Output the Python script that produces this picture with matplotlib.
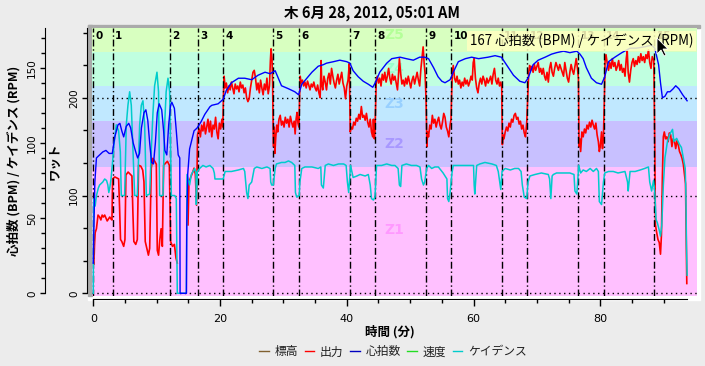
import numpy as np
import matplotlib
matplotlib.use("Agg")
import matplotlib.pyplot as plt
from matplotlib.ticker import MultipleLocator, FixedLocator
from matplotlib.patches import Rectangle, Polygon
from matplotlib.lines import Line2D

plt.rcParams['font.family'] = ['Noto Sans CJK JP', 'DejaVu Sans']

# ---------------- DADOS ----------------
titulo = "木 6月 28, 2012, 05:01 AM"
rotulo_x = "時間 (分)"
rotulo_bpm = "心拍数 (BPM) / ケイデンス (RPM)"
rotulo_watt = "ワット"
dica = "167 心拍数 (BPM) / ケイデンス (RPM)"

# inicio de cada intervalo (min)
intervalos = [0.0, 3.05, 12.15, 16.5, 20.5, 28.4, 32.5, 40.5, 44.5, 52.55,
              56.5, 64.5, 68.5, 76.55, 80.6, 88.55]
intervalos_nomes = [str(i) for i in range(len(intervalos))]

# zonas de potencia (W)
zonas_nomes = ["Z1", "Z2", "Z3", "Z4", "Z5"]
zonas_lim = [0, 129.25, 176.25, 211.5, 246.75, 282.0]
zonas_cores = ["#ffc0ff", "#c8c0ff", "#c0e8ff", "#c0ffe0", "#d8ffc0"]
zonas_cores_txt = ["#ff99ff", "#a898ff", "#98d0ff", "#98ffcc", "#b4ff98"]

# frequencia cardiaca (BPM)
t_hr = [0.0, 0.1, 0.25, 0.5, 1.0, 1.5, 2.0, 2.5, 3.0, 3.4, 3.9, 4.2, 4.5, 4.8,
        5.2, 5.6, 5.9, 6.3, 6.7, 7.0, 7.3, 7.6, 8.0, 8.3, 8.6, 8.9, 9.2, 9.5,
        9.8, 10.1, 10.4, 10.8, 11.1, 11.3, 11.6, 11.9, 12.2, 12.4, 12.8, 13.1,
        13.4, 13.65, 13.7, 14.7, 14.75, 14.9, 15.2, 15.9, 16.4, 17.0, 17.6,
        18.4, 18.7, 19.7, 20.5, 21.0, 21.8, 22.9, 23.9, 25.0, 26.0, 27.1, 27.9,
        28.7, 29.2, 29.7, 30.8, 31.8, 32.4, 32.9, 33.7, 34.5, 35.5, 36.3, 36.8,
        37.9, 38.9, 40.0, 40.5, 41.0, 41.8, 42.6, 43.4, 44.1, 44.5, 45.2, 46.3,
        47.1, 48.4, 49.4, 50.5, 51.5, 52.3, 52.9, 53.7, 54.4, 55.0, 55.5, 56.3,
        56.8, 57.6, 58.7, 59.7, 60.8, 62.3, 63.4, 64.4, 65.2, 66.3, 67.3, 68.1,
        68.6, 69.4, 70.2, 71.3, 72.3, 73.1, 74.2, 75.2, 76.3, 76.8, 77.3, 77.8,
        78.6, 79.4, 80.2, 80.7, 81.3, 82.3, 83.4, 84.7, 85.7, 87.1, 88.1, 88.6,
        89.2, 89.5, 89.8, 90.2, 90.6, 91.0, 91.5, 91.9, 92.4, 93.0, 93.7]
hr = [20, 45, 74, 90, 92, 94, 95, 93, 93, 104, 112, 113, 108, 104,
      111, 113, 110, 100, 94, 90, 93, 110, 120, 122, 115, 100, 87, 86,
      100, 120, 126, 122, 108, 95, 92, 112, 125, 127, 123, 108,
      92, 90, 0, 0, 45, 79, 96, 108, 110, 114, 119,
      124, 125, 126, 129, 135, 140, 143, 143, 142, 145, 147, 146,
      148, 143, 138, 136, 134, 132, 139, 143, 147, 151, 152, 153,
      154, 155, 154, 153, 148, 144, 141, 139, 137, 140, 147, 153,
      156, 157, 156, 155, 157, 157, 156, 150, 144, 141, 140, 142,
      147, 154, 156, 157, 156, 157, 158, 157, 152, 145, 141, 140,
      143, 152, 155, 157, 159, 160, 161, 160, 161, 159, 156, 150,
      143, 140, 139, 144, 154, 157, 160, 163, 163, 164, 165, 163,
      152, 140, 130, 131, 134, 134, 136, 138, 136, 132, 128]

# potencia (W)
t_pw = [0.1, 0.2, 0.3, 0.5, 0.75, 1.0, 1.2, 1.4, 1.6, 1.8, 2.0, 2.2, 2.4, 2.6,
        2.8, 2.95, 3.05, 3.4, 3.7, 4.0, 4.15, 4.3, 4.5, 4.8, 5.0, 5.15, 5.5,
        5.8, 6.1, 6.25, 6.4, 6.7, 6.95, 7.15, 7.5, 7.8, 8.0, 8.2, 8.45, 8.7,
        8.9, 9.15, 9.4, 9.7, 9.95, 10.1, 10.3, 10.5, 10.7, 10.9, 11.1, 11.4,
        11.7, 12.0, 12.2, 12.5, 12.8, 13.05, 13.25, 13.3, 14.9, 14.95, 15.1,
        15.4, 15.7, 15.9, 16.1, 16.3, 16.45,
        16.7, 16.9, 17.1, 17.3, 17.5, 17.7, 17.9, 18.1, 18.3, 18.5, 18.7, 18.9,
        19.1, 19.3, 19.5, 19.7, 19.9, 20.1, 20.3, 20.45,
        20.55, 20.65, 20.8, 21.0, 21.2, 21.4, 21.6, 21.8, 22.0, 22.2, 22.4,
        22.6, 22.8, 23.0, 23.2, 23.4, 23.6, 23.8, 24.0, 24.2, 24.4, 24.6, 24.8,
        25.0, 25.2, 25.4, 25.6, 25.8, 26.0, 26.2, 26.4, 26.6, 26.8, 27.0, 27.2,
        27.4, 27.6, 27.8, 27.95, 28.05, 28.2, 28.3, 28.4,
        28.45, 28.55, 28.65, 28.8, 28.95, 29.1, 29.3, 29.5, 29.7, 29.9, 30.1,
        30.3, 30.5, 30.7, 30.9, 31.1, 31.3, 31.5, 31.7, 31.85, 32.0, 32.15,
        32.3, 32.45,
        32.55, 32.65, 32.8, 33.0, 33.2, 33.4, 33.6, 33.8, 34.0, 34.2, 34.4,
        34.6, 34.8, 35.0, 35.2, 35.4, 35.6, 35.8, 35.95, 36.05, 36.2, 36.4,
        36.6, 36.8, 37.0, 37.2, 37.4, 37.6, 37.8, 38.0, 38.2, 38.4, 38.6, 38.8,
        39.0, 39.2, 39.4, 39.6, 39.8, 40.0, 40.2, 40.4,
        40.55, 40.7, 40.9, 41.1, 41.3, 41.5, 41.7, 41.9, 42.1, 42.3, 42.5,
        42.7, 42.9, 43.1, 43.3, 43.5, 43.7, 43.9, 44.1, 44.2, 44.35, 44.45,
        44.55, 44.65, 44.8, 45.0, 45.2, 45.4, 45.6, 45.8, 46.0, 46.2, 46.4,
        46.6, 46.8, 47.0, 47.2, 47.4, 47.6, 47.8, 48.0, 48.15, 48.3, 48.5,
        48.7, 48.9, 49.1, 49.3, 49.5, 49.7, 49.9, 50.1, 50.3, 50.5, 50.7, 50.9,
        51.1, 51.3, 51.5, 51.7, 51.9, 52.05, 52.2, 52.35, 52.5,
        52.65, 52.75, 52.9, 53.1, 53.3, 53.5, 53.7, 53.9, 54.1, 54.3, 54.5,
        54.7, 54.9, 55.1, 55.3, 55.5, 55.7, 55.9, 56.1, 56.3, 56.45,
        56.55, 56.65, 56.8, 57.0, 57.2, 57.4, 57.6, 57.8, 58.0, 58.2, 58.4,
        58.6, 58.8, 59.0, 59.2, 59.4, 59.6, 59.8, 59.95, 60.1, 60.3, 60.5,
        60.7, 60.9, 61.1, 61.3, 61.5, 61.7, 61.9, 62.1, 62.3, 62.5, 62.7, 62.9,
        63.1, 63.3, 63.5, 63.7, 63.9, 64.1, 64.3, 64.45,
        64.55, 64.65, 64.8, 65.0, 65.2, 65.4, 65.6, 65.8, 66.0, 66.2, 66.4,
        66.6, 66.8, 67.0, 67.2, 67.4, 67.6, 67.8, 68.0, 68.2, 68.4,
        68.55, 68.7, 68.85, 69.0, 69.2, 69.4, 69.6, 69.8, 70.0, 70.2, 70.4,
        70.6, 70.8, 71.0, 71.2, 71.4, 71.6, 71.8, 72.0, 72.2, 72.4, 72.6, 72.8,
        73.0, 73.2, 73.4, 73.6, 73.8, 74.0, 74.2, 74.4, 74.6, 74.8, 75.0, 75.2,
        75.4, 75.6, 75.8, 76.0, 76.2, 76.4, 76.55,
        76.65, 76.75, 76.9, 77.1, 77.3, 77.5, 77.7, 77.9, 78.1, 78.3, 78.5,
        78.7, 78.9, 79.1, 79.3, 79.5, 79.7, 79.85, 80.0, 80.2, 80.35, 80.5,
        80.65, 80.75, 80.9, 81.1, 81.3, 81.5, 81.7, 81.9, 82.1, 82.3, 82.5,
        82.7, 82.9, 83.1, 83.3, 83.5, 83.7, 83.9, 84.1, 84.25, 84.4, 84.6,
        84.8, 85.0, 85.2, 85.4, 85.6, 85.8, 86.0, 86.2, 86.4, 86.6, 86.8, 87.0,
        87.2, 87.4, 87.6, 87.8, 88.0, 88.2, 88.45,
        88.6, 88.7, 88.9, 89.1, 89.3, 89.5, 89.65, 89.8, 89.95, 90.1, 90.3,
        90.5, 90.7, 90.9, 91.1, 91.3, 91.5, 91.7, 91.9, 92.1, 92.3, 92.5, 92.7,
        92.9, 93.1, 93.3, 93.45, 93.55, 93.65]
pw = [30, 50, 62, 66, 80, 78, 75, 80, 78, 80, 77, 74, 76, 78,
      76, 75, 117, 119, 118, 117, 88, 55, 53, 48, 55, 121, 124,
      122, 120, 83, 53, 50, 55, 131, 130, 126, 114, 53, 46, 39,
      46, 128, 138, 135, 132, 44, 39, 55, 66, 48, 131, 133,
      135, 131, 53, 48, 50, 36, 31, np.nan, np.nan, 70, 114,
      119, 124, 128, 122, 90, 162,
      168, 160, 172, 166, 175, 163, 170, 178, 165, 176, 160, 172,
      168, 180, 165, 158, 174, 168, 178, 170,
      205, 222, 210, 215, 205, 212, 208, 216, 210, 204, 214,
      209, 212, 206, 216, 210, 213, 205, 210, 200, 196, 199, 210,
      218, 226, 228, 220, 208, 215, 205, 218, 210, 203, 214, 208,
      220, 204, 212, 238, 250, 240, 215, 160,
      150, 170, 143, 160, 172, 165, 178, 182, 172, 176, 170,
      180, 174, 178, 170, 181, 175, 170, 176, 163, 178, 185,
      174, 170,
      200, 222, 215, 218, 212, 216, 210, 217, 213, 208, 214,
      211, 216, 210, 207, 213, 205, 200, 238, 214, 208, 222,
      216, 208, 220, 225, 214, 230, 222, 215, 210, 218, 224, 214,
      220, 226, 215, 210, 199, 212, 218, 235,
      165, 170, 168, 175, 172, 179, 176, 183, 178, 191, 180,
      182, 177, 184, 175, 170, 178, 165, 160, 178, 158, 165,
      192, 218, 222, 215, 220, 212, 224, 218, 226, 216, 222,
      230, 220, 214, 224, 218, 222, 215, 208, 222, 240, 225,
      214, 218, 212, 220, 214, 222, 216, 210, 218, 222, 214, 220,
      226, 218, 212, 230, 243, 252, 236, 225, 200,
      150, 165, 160, 172, 168, 182, 174, 178, 170, 176, 180,
      172, 168, 175, 184, 180, 170, 166, 160, 172, 178,
      205, 225, 233, 220, 216, 222, 214, 218, 210, 216, 212,
      220, 214, 218, 212, 216, 222, 218, 236, 240, 220, 210,
      205, 215, 220, 214, 222, 218, 212, 220, 215, 218, 222, 214,
      224, 230, 218, 214, 220, 212, 216, 210,
      152, 162, 158, 165, 170, 166, 174, 170, 178, 175, 182,
      184, 178, 180, 173, 176, 168, 172, 164, 160, 175,
      200, 225, 233, 228, 232, 226, 234, 228, 232, 236, 226,
      230, 224, 230, 222, 218, 226, 216, 230, 236, 226, 222, 230,
      236, 232, 228, 234, 230, 226, 222, 236, 228, 220, 216, 226,
      234, 228, 224, 232, 240, 230, 220,
      150, 158, 145, 165, 160, 168, 164, 172, 168, 175, 170,
      177, 172, 168, 174, 162, 155, 145, 150, 165, 148, 160,
      200, 237, 244, 235, 228, 236, 230, 240, 232, 236, 228,
      232, 238, 228, 234, 226, 230, 222, 240, 248, 226, 216,
      228, 236, 240, 232, 238, 234, 242, 236, 245, 238, 242, 236,
      244, 240, 249, 236, 230, 242, 238,
      150, 70, 62, 55, 52, 40, 60, 120, 160, 165, 158,
      160, 155, 164, 162, 150, 158, 156, 148, 156, 152, 145, 142,
      138, 132, 120, 112, 60, 10]

# cadencia (RPM)
t_cad = [0.0, 0.05, 0.15, 0.3, 0.5, 0.8, 1.0, 1.5, 1.8, 2.1, 2.3, 2.45, 2.6,
         2.8, 3.0, 3.27, 3.63, 4.0, 4.27, 4.42, 4.95, 5.21, 5.47, 5.74, 6.0,
         6.27, 6.53, 6.95, 7.32, 7.58, 7.84, 8.11, 8.37, 8.9, 9.16, 9.42, 9.68,
         10.05, 10.3, 10.47, 11.0, 11.26, 11.5, 11.79, 12.05, 12.32, 12.84,
         13.1, 13.26, 14.68, 14.79, 15.2, 15.47, 16.0, 16.2, 16.26, 16.42,
         16.78, 17.3, 17.8, 18.4, 18.9, 19.1, 19.2, 19.7, 20.5, 20.8, 21.8,
         22.9, 23.7, 23.9, 24.2, 24.4, 24.6, 25.0, 25.4, 25.8, 26.6, 27.4,
         27.9, 28.0, 28.15, 28.4, 28.7, 28.9, 29.7, 30.25, 30.8, 31.3, 31.8,
         31.9, 32.1, 32.5, 32.6, 32.9, 33.4, 34.5, 35.5, 35.9, 36.0, 36.3,
         36.6, 37.1, 37.9, 38.7, 39.5, 39.9, 40.1, 40.3, 40.6, 40.8, 41.0,
         41.6, 42.1, 42.9, 43.4, 43.7, 43.9, 44.2, 44.45, 44.7, 45.5, 46.3,
         47.1, 47.6, 48.1, 48.3, 48.5, 48.7, 49.4, 50.2, 51.0, 51.55, 51.8,
         52.1, 52.3, 52.6, 52.9, 53.4, 53.9, 54.45, 55.2, 55.8, 55.9, 56.1,
         56.3, 56.6, 56.8, 57.6, 58.7, 60.0, 60.1, 60.2, 60.5, 61.0, 61.8,
         62.9, 63.6, 63.9, 64.2, 64.3, 64.5, 65.0, 65.8, 66.5, 67.1, 67.5,
         67.7, 68.0, 68.4, 68.6, 68.9, 69.7, 70.7, 71.8, 72.0, 72.2, 72.4,
         72.6, 73.1, 74.2, 75.2, 75.85, 76.0, 76.3, 76.6, 76.9, 77.3, 77.8,
         78.4, 78.9, 79.4, 79.7, 79.85, 80.2, 80.5, 80.7, 81.3, 82.05, 82.8,
         83.9, 84.3, 84.4, 84.7, 85.5, 86.3, 87.0, 87.6, 87.8, 88.1, 88.4,
         88.6, 88.8, 89.0, 89.3, 89.5, 89.7, 89.95, 90.2, 90.6, 91.0, 91.4,
         91.6, 92.05, 92.5, 92.8, 93.1, 93.4, 93.5, 93.6, 93.7]
cad = [0, 59, 63, 58, 65, 70, 72, 74, 76, 75, 72, 67, 70,
       76, 85, 99, 112, 108, 94, 65, 65, 112, 125, 134, 125,
       94, 65, 65, 112, 125, 128, 112, 65, 66, 96, 120, 138,
       147, 134, 65, 65, 112, 134, 143, 134, 65, 65,
       63, 0, 0, 79, 72, 79, 83, 80, 59, 81,
       83, 85, 84, 85, 83, 80, 76, 76, 76, 81, 81,
       82, 83, 81, 67, 63, 72, 74, 83, 84, 83, 84,
       83, 74, 72, 72, 83, 86, 87, 87, 88, 87, 85,
       67, 64, 65, 74, 83, 84, 84, 83, 84, 72, 70,
       85, 86, 85, 86, 86, 85, 74, 67, 85, 81, 77,
       78, 79, 78, 79, 72, 63, 62, 64, 85, 85, 86,
       85, 85, 83, 72, 71, 85, 86, 85, 85, 84, 76,
       72, 74, 83, 85, 83, 84, 84, 80, 76, 63, 61,
       67, 80, 85, 85, 85, 85, 72, 66, 85, 86, 87,
       86, 85, 81, 72, 69, 81, 83, 82, 83, 83, 81,
       72, 64, 63, 74, 78, 79, 80, 79, 76, 63, 78,
       79, 80, 80, 80, 79, 68, 66, 85, 80, 82, 81,
       83, 81, 83, 81, 61, 59, 74, 80, 81, 81, 80,
       81, 74, 68, 81, 81, 82, 83, 84, 74, 68, 75,
       67, 49, 47, 42, 38, 45, 72, 90, 101, 106, 109,
       101, 103, 99, 97, 90, 83, 68, 32, 12]

legenda_nomes = ["標高", "出力", "心拍数", "速度", "ケイデンス"]
legenda_cores = ["#806030", "#ff0000", "#0000c0", "#22dd22", "#00cccc"]

# ---------------- FIGURA ----------------
W, H = 705, 366
fig = plt.figure(figsize=(W / 100, H / 100), dpi=100, facecolor="#ececec")

def fx(px):
    return px / W

def fy(py):
    return 1 - py / H

# moldura "afundada" em volta do grafico
fig.patches.append(Rectangle((fx(88), fy(300)), fx(612), 275 / H,
                             transform=fig.transFigure, color="white", zorder=-2))
fig.patches.append(Rectangle((fx(88), fy(28)), fx(612), 3 / H,
                             transform=fig.transFigure, color="#aaaaaa", zorder=-1))
fig.patches.append(Rectangle((fx(88), fy(296)), fx(4), 271 / H,
                             transform=fig.transFigure, color="#aaaaaa", zorder=-1))

ax = fig.add_axes([fx(92), fy(296), fx(605), 268 / H])
ax2 = ax.twinx()

ax.set_xlim(-0.2, 95.26)
ax.set_ylim(-2.76, 271.3)
ax2.set_ylim(-1.8, 176.4)

# zonas
for i, nome in enumerate(zonas_nomes):
    baixo = zonas_lim[i] if i > 0 else -10
    ax.axhspan(baixo, zonas_lim[i + 1], color=zonas_cores[i], lw=0, zorder=0)
    ax.text(0.5, (zonas_lim[i] + zonas_lim[i + 1]) / 2, nome,
            transform=ax.get_yaxis_transform(), ha="center", va="center",
            fontsize=10, fontweight="bold", color=zonas_cores_txt[i],
            family="DejaVu Sans", zorder=0.6)

# grade pontilhada
ax.yaxis.set_major_locator(MultipleLocator(100))
ax.yaxis.set_minor_locator(MultipleLocator(100 / 3))
ax.grid(True, axis="y", which="major", linestyle=(0, (1, 2.5)), color="black", lw=1)
ax.set_axisbelow(True)

# intervalos
for t, nome in zip(intervalos, intervalos_nomes):
    ax.axvline(t, color="black", lw=1, linestyle=(0, (5, 2, 1, 2)), zorder=3)
    ax.text(t + 0.35, 0.97, nome, transform=ax.get_xaxis_transform(),
            ha="left", va="center", fontsize=7.5, fontweight="bold",
            family="DejaVu Sans", zorder=4)

# series
ax.plot(t_pw, pw, color="#ff0000", lw=1.2, zorder=2)
ax2.plot(t_cad, cad, color="#00cccc", lw=1.1, zorder=2)
ax2.plot(t_hr, hr, color="#0000ff", lw=1.0, zorder=3)

# ---------------- EIXOS ----------------
for s in ["top", "right"]:
    ax.spines[s].set_visible(False)
for s in ["top", "right", "bottom"]:
    ax2.spines[s].set_visible(False)

ax.spines["left"].set_position(("outward", 3.6))
ax.spines["left"].set_bounds(0, 271.3)
ax.spines["bottom"].set_position(("outward", 2.2))
ax.spines["bottom"].set_bounds(0, 93.7)

ax2.yaxis.set_ticks_position("left")
ax2.spines["left"].set_visible(True)
ax2.spines["left"].set_position(("outward", 33.8))
ax2.spines["left"].set_bounds(0, 176.4)
ax2.yaxis.set_major_locator(MultipleLocator(50))
ax2.yaxis.set_minor_locator(MultipleLocator(10))

ax.xaxis.set_major_locator(MultipleLocator(20))
ax.xaxis.set_minor_locator(FixedLocator(np.arange(0, 94, 5)))

for a in (ax, ax2):
    a.tick_params(axis="y", which="major", length=3.6, width=1, labelsize=7.5,
                  pad=2, labelrotation=90)
    a.tick_params(axis="y", which="minor", length=2.9, width=1)
    plt.setp(a.get_yticklabels(), va="center", family="DejaVu Sans")
ax.tick_params(axis="x", which="major", length=5, width=1, labelsize=8, pad=5.5)
ax.tick_params(axis="x", which="minor", length=3, width=1)
plt.setp(ax.get_xticklabels(), family="DejaVu Sans")

# ---------------- TEXTOS ----------------
fig.text(fx(372), fy(13), titulo, ha="center", va="center",
         fontsize=10.5, fontweight="bold")
fig.text(fx(390), fy(332), rotulo_x, ha="center", va="center",
         fontsize=9, fontweight="bold")
fig.text(fx(14), fy(161), rotulo_bpm, ha="center", va="center",
         rotation=90, fontsize=9, fontweight="bold")
fig.text(fx(55), fy(161), rotulo_watt, ha="center", va="center",
         rotation=90, fontsize=9, fontweight="bold")

# legenda
alcas = [Line2D([], [], color=c, lw=1) for c in legenda_cores]
fig.legend(alcas, legenda_nomes, loc="center", bbox_to_anchor=(fx(393), fy(352)),
           ncol=5, frameon=False, handlelength=0.8, handletextpad=0.5,
           columnspacing=0.55, fontsize=8.5, labelcolor="#202020")

# dica do mouse
fig.text(fx(470), fy(41), dica, ha="left", va="center", fontsize=9.6,
         bbox=dict(boxstyle="square,pad=0.2", facecolor="#ffffc0",
                   edgecolor="none", alpha=0.85), zorder=10)
cursor = [(0, 0), (0, 16), (4, 12), (7, 18), (9, 17), (6, 11), (11, 11)]
fig.patches.append(Polygon([(fx(657 + dx), fy(38 + dy)) for dx, dy in cursor],
                           closed=True, transform=fig.transFigure,
                           facecolor="black", edgecolor="white", lw=0.6, zorder=11))

fig.savefig("out.png", dpi=100, facecolor=fig.get_facecolor())
